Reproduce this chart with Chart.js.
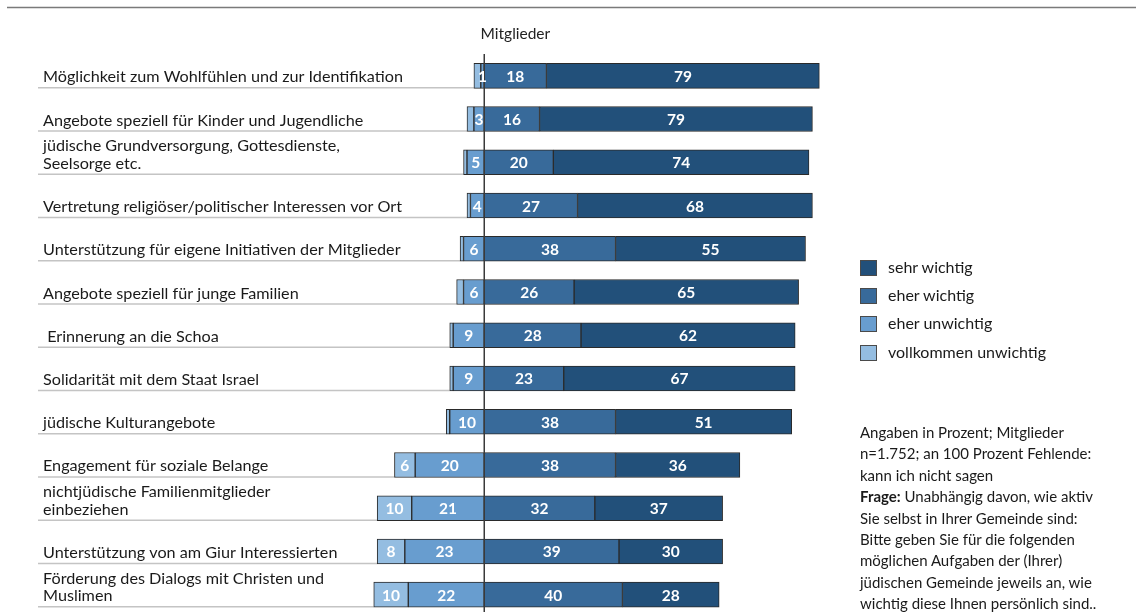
<!DOCTYPE html>
<html>
<head>
<meta charset="utf-8">
<script src="https://cdn.jsdelivr.net/npm/chart.js@4/dist/chart.umd.min.js"></script>
<style>
  html, body { margin: 0; padding: 0; background: #fff; overflow: hidden; }
  #wrap { position: relative; width: 1136px; height: 612px; font-family: Lato, "Open Sans", sans-serif; color: #1a1a1a; }
  #c { position: absolute; left: 0; top: 0; }
  .leg { position: absolute; left: 860px; font-size: 16px; }
  .leg .sw { position: absolute; left: 0; width: 15px; height: 14px; border: 1px solid #4a4a4a; }
  .leg .tx { position: absolute; left: 28px; top: -3px; white-space: nowrap; }
  #note { position: absolute; left: 860px; top: 422px; font-size: 15px; line-height: 21.4px; white-space: nowrap; }
</style>
</head>
<body>
<div id="wrap">
  <canvas id="c" width="1136" height="612"></canvas>
  <div id="legend"></div>
  <div id="note"></div>
</div>
<script>
const categories = [
  ["Möglichkeit zum Wohlfühlen und zur Identifikation"],
  ["Angebote speziell für Kinder und Jugendliche"],
  ["jüdische Grundversorgung, Gottesdienste,", "Seelsorge etc."],
  ["Vertretung religiöser/politischer Interessen vor Ort"],
  ["Unterstützung für eigene Initiativen der Mitglieder"],
  ["Angebote speziell für junge Familien"],
  [" Erinnerung an die Schoa"],
  ["Solidarität mit dem Staat Israel"],
  ["jüdische Kulturangebote"],
  ["Engagement für soziale Belange"],
  ["nichtjüdische Familienmitglieder", "einbeziehen"],
  ["Unterstützung von am Giur Interessierten"],
  ["Förderung des Dialogs mit Christen und", "Muslimen"]
];
const sehrWichtig          = [79, 79, 74, 68, 55, 65, 62, 67, 51, 36, 37, 30, 28];
const eherWichtig          = [18, 16, 20, 27, 38, 26, 28, 23, 38, 38, 32, 39, 40];
const eherUnwichtig        = [ 1,  3,  5,  4,  6,  6,  9,  9, 10, 20, 21, 23, 22];
const vollkommenUnwichtig  = [ 2,  2,  1,  1,  1,  2,  1,  1,  1,  6, 10,  8, 10];
const seriesNames = ["sehr wichtig", "eher wichtig", "eher unwichtig", "vollkommen unwichtig"];
const seriesColors = ["#22507a", "#386a9a", "#689dcf", "#94bde1"];
const titleText = "Mitglieder";
const noteLines = [
  "Angaben in Prozent; Mitglieder",
  "n=1.752; an 100 Prozent Fehlende:",
  "kann ich nicht sagen",
  "<b>Frage:</b> Unabhängig davon, wie aktiv",
  "Sie selbst in Ihrer Gemeinde sind:",
  "Bitte geben Sie für die folgenden",
  "möglichen Aufgaben der (Ihrer)",
  "jüdischen Gemeinde jeweils an, wie",
  "wichtig diese Ihnen persönlich sind.."
];

const FONT = 'Lato, "Open Sans", sans-serif';
const BAR_H = 25;

const decor = {
  id: 'decor',
  beforeDatasetsDraw(chart) {
    const ctx = chart.ctx;
    const xs = chart.scales.x, ys = chart.scales.y;
    ctx.save();
    // top rule
    ctx.strokeStyle = '#7a7a7a';
    ctx.lineWidth = 1.5;
    ctx.beginPath(); ctx.moveTo(7, 7.5); ctx.lineTo(1136, 7.5); ctx.stroke();
    // title
    ctx.fillStyle = '#222';
    ctx.font = '15.5px ' + FONT;
    ctx.textAlign = 'center'; ctx.textBaseline = 'middle';
    ctx.fillText(titleText, xs.getPixelForValue(9), 34);
    // category labels + underlines
    categories.forEach((lines, i) => {
      const yc = ys.getPixelForValue(i);
      const yb = yc + BAR_H / 2;
      const left = xs.getPixelForValue(-(eherUnwichtig[i] + vollkommenUnwichtig[i]));
      ctx.strokeStyle = '#c4c4c4';
      ctx.lineWidth = 1.5;
      ctx.beginPath(); ctx.moveTo(38, yb - 0.5); ctx.lineTo(left, yb - 0.5); ctx.stroke();
      ctx.fillStyle = '#1a1a1a';
      ctx.font = '16.2px ' + FONT;
      ctx.textAlign = 'left'; ctx.textBaseline = 'alphabetic';
      const n = lines.length;
      lines.forEach((t, k) => {
        ctx.fillText(t, 43, yb - 6 - (n - 1 - k) * 17.5);
      });
    });
    ctx.restore();
  },
  afterDatasetsDraw(chart) {
    const ctx = chart.ctx;
    const xs = chart.scales.x, ys = chart.scales.y;
    ctx.save();
    // zero line
    const x0 = Math.round(xs.getPixelForValue(0)) + 0.25;
    ctx.strokeStyle = '#3a3a3a';
    ctx.lineWidth = 1.5;
    ctx.beginPath(); ctx.moveTo(x0, 54); ctx.lineTo(x0, 612); ctx.stroke();
    // value labels
    ctx.fillStyle = '#ffffff';
    ctx.font = 'bold 15.5px ' + FONT;
    ctx.textAlign = 'center'; ctx.textBaseline = 'middle';
    chart.data.datasets.forEach((ds, di) => {
      const meta = chart.getDatasetMeta(di);
      meta.data.forEach((bar, i) => {
        const v = Math.abs(ds.data[i]);
        if (ds.label === 'vollkommen unwichtig' && v < 3) return;
        ctx.fillText(String(v), bar.x + (bar.base - bar.x) / 2, bar.y + 1);
      });
    });
    ctx.restore();
  }
};

const mk = (label, data, color) => ({
  label, data, backgroundColor: color, borderColor: '#2a2a2a', borderWidth: 1,
  borderSkipped: false, barThickness: BAR_H, stack: 's', clip: false
});

new Chart(document.getElementById('c'), {
  type: 'bar',
  data: {
    labels: categories.map((c, i) => String(i)),
    datasets: [
      mk('eher unwichtig', eherUnwichtig.map(v => -v), seriesColors[2]),
      mk('vollkommen unwichtig', vollkommenUnwichtig.map(v => -v), seriesColors[3]),
      mk('eher wichtig', eherWichtig, seriesColors[1]),
      mk('sehr wichtig', sehrWichtig, seriesColors[0])
    ]
  },
  options: {
    indexAxis: 'y',
    responsive: false,
    animation: false,
    layout: { padding: { left: 346.1, right: 306.3, top: 75.8, bottom: 17.3 } },
    plugins: { legend: { display: false }, tooltip: { enabled: false } },
    scales: {
      x: { type: 'linear', min: -40, max: 100, stacked: true, display: false },
      y: { type: 'category', stacked: true, offset: false, display: false }
    }
  },
  plugins: [decor]
});

// legend (HTML)
const legTops = [260, 288, 316, 345];
const legEl = document.getElementById('legend');
seriesNames.forEach((name, i) => {
  const d = document.createElement('div');
  d.className = 'leg';
  d.style.top = legTops[i] + 'px';
  d.innerHTML = '<div class="sw" style="background:' + seriesColors[i] + '"></div><div class="tx">' + name + '</div>';
  legEl.appendChild(d);
});
document.getElementById('note').innerHTML = noteLines.join('<br>');
</script>
</body>
</html>
